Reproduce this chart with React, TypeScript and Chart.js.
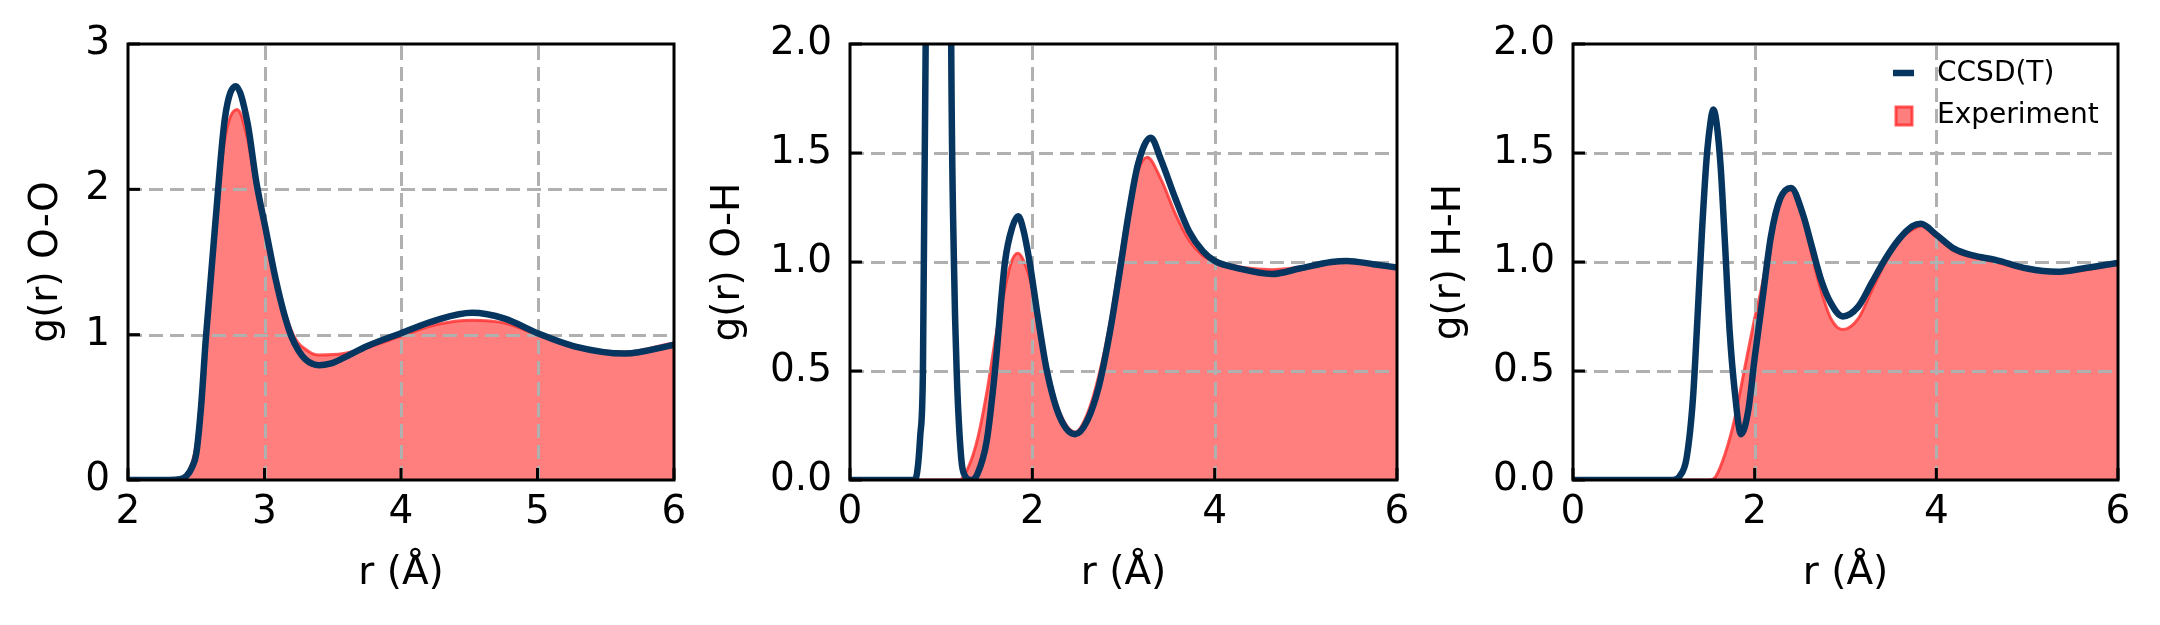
import React, { useEffect, useRef } from 'react';
import { Chart, registerables } from 'chart.js';

Chart.register(...registerables);

// ---------- Data: radial distribution functions ----------
// O-O
const OO_CCSD_R = [2.0, 2.3, 2.38, 2.43, 2.47, 2.5, 2.535, 2.57, 2.64, 2.71, 2.79, 2.875, 2.94, 3.01, 3.08, 3.145, 3.2, 3.25, 3.3, 3.35, 3.4, 3.48, 3.58, 3.75, 4.0, 4.26, 4.52, 4.76, 5.0, 5.27, 5.64, 6.0];
const OO_CCSD_G = [0, 0, 0.005, 0.03, 0.09, 0.18, 0.5, 0.97, 1.77, 2.49, 2.71, 2.46, 2.05, 1.72, 1.39, 1.14, 0.98, 0.89, 0.83, 0.8, 0.79, 0.8, 0.84, 0.92, 1.01, 1.1, 1.15, 1.11, 1.01, 0.92, 0.87, 0.93];
const OO_EXP_R = [2.0, 2.35, 2.42, 2.47, 2.5, 2.535, 2.57, 2.64, 2.71, 2.8, 2.875, 2.94, 3.01, 3.08, 3.145, 3.21, 3.25, 3.3, 3.35, 3.4, 3.58, 3.75, 4.0, 4.26, 4.52, 4.76, 5.0, 5.27, 5.64, 6.0];
const OO_EXP_G = [0, 0, 0.03, 0.12, 0.25, 0.58, 1.0, 1.75, 2.35, 2.55, 2.35, 2.0, 1.7, 1.4, 1.17, 1.0, 0.94, 0.9, 0.87, 0.86, 0.87, 0.91, 0.99, 1.07, 1.1, 1.08, 1.0, 0.92, 0.88, 0.945];

// O-H
const OH_CCSD_R = [0, 0.7, 0.73, 0.77, 0.8, 0.83, 0.9, 0.97, 1.05, 1.11, 1.14, 1.17, 1.22, 1.26, 1.33, 1.4, 1.5, 1.59, 1.7, 1.78, 1.846, 1.9, 1.97, 2.06, 2.16, 2.3, 2.47, 2.6, 2.73, 2.86, 2.96, 3.06, 3.16, 3.3, 3.41, 3.57, 3.72, 3.87, 4.0, 4.27, 4.63, 4.93, 5.28, 5.45, 5.74, 6.0];
const OH_CCSD_G = [0, 0, 0.02, 0.2, 0.5, 2.0, 8, 12, 8, 2.0, 1.0, 0.5, 0.1, 0.02, 0.0, 0.03, 0.18, 0.5, 1.0, 1.16, 1.21, 1.15, 1.0, 0.75, 0.5, 0.29, 0.21, 0.27, 0.43, 0.7, 0.96, 1.23, 1.45, 1.57, 1.47, 1.29, 1.14, 1.05, 1.005, 0.97, 0.945, 0.97, 1.0, 1.005, 0.99, 0.975];
const OH_EXP_R = [0, 1.2, 1.3, 1.4, 1.5, 1.6, 1.7, 1.77, 1.84, 1.9, 2.0, 2.1, 2.2, 2.3, 2.47, 2.6, 2.73, 2.86, 2.96, 3.06, 3.16, 3.26, 3.41, 3.57, 3.72, 3.87, 4.0, 4.63, 5.28, 5.45, 6.0];
const OH_EXP_G = [0, 0, 0.06, 0.19, 0.4, 0.66, 0.88, 1.0, 1.04, 1.01, 0.88, 0.66, 0.45, 0.31, 0.22, 0.3, 0.48, 0.74, 1.01, 1.25, 1.42, 1.48, 1.38, 1.22, 1.1, 1.03, 1.005, 0.965, 0.996, 1.005, 0.975];

// H-H
const HH_CCSD_R = [0, 1.1, 1.17, 1.25, 1.32, 1.37, 1.42, 1.47, 1.51, 1.545, 1.58, 1.625, 1.675, 1.725, 1.78, 1.85, 1.93, 2.0, 2.08, 2.18, 2.28, 2.4, 2.53, 2.63, 2.73, 2.84, 2.97, 3.14, 3.29, 3.44, 3.59, 3.74, 3.83, 4.0, 4.2, 4.4, 4.65, 5.0, 5.33, 5.61, 6.0];
const HH_CCSD_G = [0, 0, 0.015, 0.1, 0.37, 0.74, 1.14, 1.47, 1.63, 1.7, 1.64, 1.44, 1.07, 0.68, 0.41, 0.21, 0.32, 0.56, 0.81, 1.12, 1.29, 1.34, 1.22, 1.07, 0.92, 0.81, 0.75, 0.795, 0.905, 1.015, 1.105, 1.165, 1.175, 1.125, 1.06, 1.03, 1.01, 0.97, 0.955, 0.97, 0.996];
const HH_EXP_R = [0, 1.5, 1.57, 1.675, 1.78, 1.875, 2.0, 2.08, 2.18, 2.28, 2.38, 2.53, 2.63, 2.73, 2.84, 2.97, 3.14, 3.29, 3.44, 3.59, 3.79, 3.83, 4.0, 4.2, 4.65, 5.0, 5.33, 6.0];
const HH_EXP_G = [0, 0, 0.015, 0.12, 0.28, 0.48, 0.74, 0.89, 1.12, 1.29, 1.335, 1.21, 1.03, 0.87, 0.74, 0.69, 0.74, 0.87, 1.0, 1.1, 1.16, 1.165, 1.115, 1.05, 1.0, 0.965, 0.95, 0.99];

const SERIES_LABELS = ['CCSD(T)', 'Experiment'];
const X_TITLE = 'r (Å)';
const Y_TITLES = ['g(r) O-O', 'g(r) O-H', 'g(r) H-H'];

// ---------- Styling ----------
const FONT = 'DejaVu Sans';
const NAVY = '#06355f';
const FILL = 'rgba(255,0,0,0.5)';
const EDGE = 'rgba(255,45,45,0.8)';
const GRID = '#b0b0b0';

type Panel = {
  left: number; width: number;
  plotLeft: number; plotRight: number;
  xMin: number; xMax: number; xStep: number;
  yMin: number; yMax: number; yStep: number; yDec: number;
  yTitle: string; yTitlePad: number;
  ccsdR: number[]; ccsdG: number[]; expR: number[]; expG: number[];
  legend: boolean;
};

const H = 625;
const PLOT_TOP = 44;
const PLOT_BOTTOM = 480;

const PANELS: Panel[] = [
  { left: 0, width: 720, plotLeft: 128, plotRight: 674, xMin: 2, xMax: 6, xStep: 1, yMin: 0, yMax: 3, yStep: 1, yDec: 0, yTitle: Y_TITLES[0], yTitlePad: 23, ccsdR: OO_CCSD_R, ccsdG: OO_CCSD_G, expR: OO_EXP_R, expG: OO_EXP_G, legend: false },
  { left: 700, width: 720, plotLeft: 150, plotRight: 697, xMin: 0, xMax: 6, xStep: 2, yMin: 0, yMax: 2, yStep: 0.5, yDec: 1, yTitle: Y_TITLES[1], yTitlePad: 5, ccsdR: OH_CCSD_R, ccsdG: OH_CCSD_G, expR: OH_EXP_R, expG: OH_EXP_G, legend: false },
  { left: 1420, width: 740, plotLeft: 153, plotRight: 698, xMin: 0, xMax: 6, xStep: 2, yMin: 0, yMax: 2, yStep: 0.5, yDec: 1, yTitle: Y_TITLES[2], yTitlePad: 6, ccsdR: HH_CCSD_R, ccsdG: HH_CCSD_G, expR: HH_EXP_R, expG: HH_EXP_G, legend: true },
];

const toPoints = (r: number[], g: number[]) => r.map((x, i) => ({ x, y: g[i] }));

function makePlugin(p: Panel) {
  return {
    id: 'mplFrame',
    beforeDatasetDraw(chart: any, args: any) {
      if (args.index !== 0) return;
      const { ctx, chartArea: a } = chart;
      const xs = chart.scales.x;
      const ys = chart.scales.y;
      ctx.save();
      ctx.strokeStyle = GRID;
      ctx.lineWidth = 3;
      ctx.setLineDash([14, 7]);
      for (const t of xs.ticks) {
        if (t.value <= p.xMin || t.value >= p.xMax) continue;
        const px = Math.round(xs.getPixelForValue(t.value)) + 0.5;
        ctx.beginPath();
        ctx.moveTo(px, a.bottom);
        ctx.lineTo(px, a.top);
        ctx.stroke();
      }
      for (const t of ys.ticks) {
        if (t.value <= p.yMin || t.value >= p.yMax) continue;
        const py = Math.round(ys.getPixelForValue(t.value)) + 0.5;
        ctx.beginPath();
        ctx.moveTo(a.left, py);
        ctx.lineTo(a.right, py);
        ctx.stroke();
      }
      ctx.restore();
    },
    afterDraw(chart: any) {
      const { ctx, chartArea: a } = chart;
      const xs = chart.scales.x;
      const ys = chart.scales.y;
      ctx.save();
      ctx.setLineDash([]);
      ctx.strokeStyle = '#000';
      ctx.lineWidth = 3;
      // inward ticks
      const TL = 12;
      for (const t of xs.ticks) {
        const px = xs.getPixelForValue(t.value);
        ctx.beginPath();
        ctx.moveTo(px, a.bottom);
        ctx.lineTo(px, a.bottom - TL);
        ctx.stroke();
      }
      for (const t of ys.ticks) {
        const py = ys.getPixelForValue(t.value);
        ctx.beginPath();
        ctx.moveTo(a.left, py);
        ctx.lineTo(a.left + TL, py);
        ctx.stroke();
      }
      // frame
      ctx.strokeRect(a.left, a.top, a.right - a.left, a.bottom - a.top);

      if (p.legend) {
        const ds = chart.data.datasets;
        // CCSD(T) line marker
        ctx.strokeStyle = NAVY;
        ctx.lineWidth = 6.5;
        ctx.beginPath();
        ctx.moveTo(a.right - 225, a.top + 29);
        ctx.lineTo(a.right - 204, a.top + 29);
        ctx.stroke();
        // Experiment patch
        ctx.fillStyle = FILL;
        ctx.fillRect(a.right - 222, a.top + 63, 16, 18);
        ctx.strokeStyle = EDGE;
        ctx.lineWidth = 3;
        ctx.strokeRect(a.right - 222, a.top + 63, 16, 18);
        ctx.fillStyle = '#000';
        ctx.font = `28px "${FONT}"`;
        ctx.textAlign = 'left';
        ctx.textBaseline = 'middle';
        ctx.fillText(ds[0].label, a.right - 181, a.top + 30);
        ctx.fillText(ds[1].label, a.right - 181, a.top + 72);
      }
      ctx.restore();
    },
  };
}

function PanelChart({ p }: { p: Panel }) {
  const ref = useRef<HTMLCanvasElement | null>(null);
  useEffect(() => {
    if (!ref.current) return;
    const tickFont = { family: FONT, size: 39 };
    const chart = new Chart(ref.current, {
      type: 'line',
      data: {
        datasets: [
          {
            label: SERIES_LABELS[0],
            data: toPoints(p.ccsdR, p.ccsdG),
            borderColor: NAVY,
            borderWidth: 6.5,
            pointRadius: 0,
            fill: false,
            cubicInterpolationMode: 'monotone',
            order: 0,
          },
          {
            label: SERIES_LABELS[1],
            data: toPoints(p.expR, p.expG),
            borderColor: EDGE,
            borderWidth: 3,
            backgroundColor: FILL,
            fill: 'origin',
            pointRadius: 0,
            cubicInterpolationMode: 'monotone',
            order: 1,
          },
        ],
      },
      options: {
        animation: false,
        responsive: false,
        maintainAspectRatio: false,
        devicePixelRatio: 1,
        layout: {
          padding: { left: 0, top: PLOT_TOP, right: p.width - p.plotRight, bottom: 0 },
        },
        plugins: {
          legend: { display: false },
          tooltip: { enabled: false },
          title: { display: false },
        },
        scales: {
          x: {
            type: 'linear',
            min: p.xMin,
            max: p.xMax,
            grid: { display: false, drawTicks: false },
            border: { display: false },
            ticks: {
              stepSize: p.xStep,
              color: '#000',
              font: tickFont,
              padding: 9,
              maxRotation: 0,
              autoSkip: false,
              callback: (v: any) => String(v),
            },
            title: {
              display: true,
              text: X_TITLE,
              color: '#000',
              font: tickFont,
              padding: { top: 0, bottom: 28 },
            },
            afterFit: (s: any) => { s.height = H - PLOT_BOTTOM; },
          },
          y: {
            type: 'linear',
            min: p.yMin,
            max: p.yMax,
            grid: { display: false, drawTicks: false },
            border: { display: false },
            ticks: {
              stepSize: p.yStep,
              color: '#000',
              font: tickFont,
              padding: 18,
              autoSkip: false,
              callback: (v: any) => Number(v).toFixed(p.yDec),
            },
            title: {
              display: true,
              text: p.yTitle,
              color: '#000',
              font: tickFont,
              padding: { top: p.yTitlePad, bottom: 0 },
            },
            afterFit: (s: any) => { s.width = p.plotLeft; },
          },
        },
      } as any,
      plugins: [makePlugin(p)],
    });
    return () => chart.destroy();
  }, [p]);
  return (
    <canvas
      ref={ref}
      width={p.width}
      height={H}
      style={{ position: 'absolute', left: p.left, top: 0, width: p.width, height: H }}
    />
  );
}

export default function App() {
  return (
    <div style={{ position: 'absolute', left: 0, top: 0, width: 2160, height: H, background: '#fff' }}>
      {PANELS.map((p, i) => (
        <PanelChart key={i} p={p} />
      ))}
    </div>
  );
}
